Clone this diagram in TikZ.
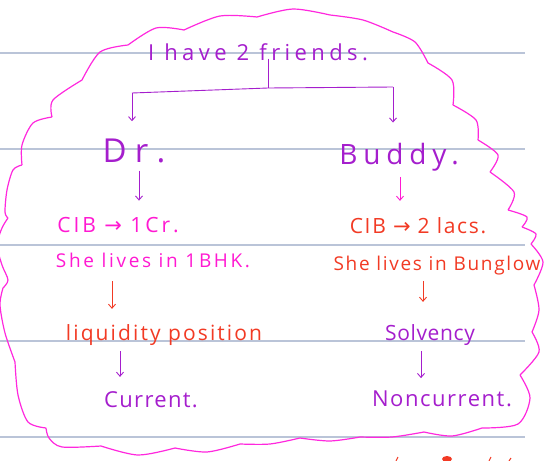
\documentclass[tikz,border=0pt]{standalone}
\usepackage{fontspec}
\setmainfont{Open Sans}
\newfontfamily\symfont{DejaVu Sans}
\usetikzlibrary{arrows.meta}
\definecolor{rule}{RGB}{186,196,216}
\definecolor{cloud}{RGB}{255,40,222}
\definecolor{ink}{RGB}{165,30,205}
\definecolor{pink}{RGB}{255,25,210}
\definecolor{redink}{RGB}{242,58,36}
\tikzset{
  txt/.style={inner sep=2pt, anchor=base},
  cloudline/.style={cloud, line width=1.2pt, line join=round},
  arr/.style={-{Straight Barb[length=4pt,width=7pt]}, line width=0.9pt}
}
\newcommand{\fs}[2]{\fontsize{#1}{#1}\selectfont\addfontfeature{LetterSpace=#2}}
\newcommand{\goesto}{{\symfont →}}
\begin{document}
\begin{tikzpicture}[x=1pt,y=-1pt]
    \useasboundingbox (0,0) rectangle (545,460);
    \clip (0,0) rectangle (545,460);
    \fill[white] (0,0) rectangle (545,460);
    \foreach \y in {53,149,245,341,437}
        \draw[rule,line width=1.6pt] (0,\y) -- (525,\y);
    \draw[cloudline]
      plot[smooth] coordinates {(128,45) (156,28) (184,30)}
      plot[smooth] coordinates {(184,30) (220,16) (257,17)}
      plot[smooth] coordinates {(257,17) (293,9) (330,15)}
      plot[smooth] coordinates {(330,15) (363,20) (393,32)}
      plot[smooth] coordinates {(393,32) (415,42) (428,63)}
      plot[smooth] coordinates {(428,63) (452,80) (453,105)}
      plot[smooth] coordinates {(453,105) (476,120) (478,140)}
      plot[smooth] coordinates {(478,140) (498,155) (490,172)}
      plot[smooth] coordinates {(490,172) (514,192) (508,210)}
      plot[smooth] coordinates {(508,210) (527,217) (522,227)}
      plot[smooth] coordinates {(522,227) (536,234) (531,244)}
      plot[smooth] coordinates {(531,244) (543,262) (534,285)}
      plot[smooth] coordinates {(534,285) (539,310) (532,332)}
      plot[smooth] coordinates {(532,332) (539,352) (520,375)}
      plot[smooth] coordinates {(520,375) (530,398) (518,424) (482,428)}
      plot[smooth] coordinates {(482,428) (452,436) (424,432)}
      plot[smooth] coordinates {(424,432) (392,437) (360,437)}
      plot[smooth] coordinates {(360,437) (330,441) (300,438)}
      plot[smooth] coordinates {(300,438) (270,444) (240,444)}
      plot[smooth] coordinates {(240,444) (207,452) (175,448)}
      plot[smooth] coordinates {(175,448) (138,455) (101,446)}
      plot[smooth] coordinates {(101,446) (62,447) (49,438) (46,428)}
      plot[smooth] coordinates {(46,428) (28,422) (18,395) (15,362)}
      plot[smooth] coordinates {(15,362) (5,333) (0,305) (3,288)}
      plot[smooth] coordinates {(3,288) (8,280) (2,265) (-3,245) (2,228) (8,218)}
      plot[smooth] coordinates {(8,218) (5,212) (7,190) (13,170) (22,165)}
      plot[smooth] coordinates {(22,165) (22,145) (33,123) (52,117)}
      plot[smooth] coordinates {(52,117) (53,100) (82,80)}
      plot[smooth] coordinates {(82,80) (100,52) (128,45)};

    \node[txt,ink,font=\fs{22}{20}] (f) at (258,60) {I have 2 friends.};
    \node[txt,ink,font=\fs{33}{25}] (dr) at (134,162) {Dr.};
    \node[txt,ink,font=\fs{28}{21}] (bd) at (399,164) {Buddy.};
    \node[txt,pink,font=\fs{21}{14}] (c1) at (118,232) {CIB \goesto{} 1Cr.};
    \node[txt,redink,font=\fs{21}{8}] (c2) at (418,233) {CIB \goesto{} 2 lacs.};
    \node[txt,pink,font=\fs{19}{14}] (h1) at (153,267) {She lives in 1BHK.};
    \node[txt,redink,font=\fs{19}{9}] (h2) at (437,270) {She lives in Bunglow};
    \node[txt,redink,font=\fs{21}{10}] (lq) at (164,340) {liquidity position};
    \node[txt,ink,font=\fs{21}{3}] (sv) at (430,340) {Solvency};
    \node[txt,ink,font=\fs{22}{6}] (cu) at (151,407) {Current.};
    \node[txt,ink,font=\fs{22}{7}] (nc) at (442,406) {Noncurrent.};

    \coordinate (t) at (268,88);
    \coordinate (l) at (132,93);
    \coordinate (r) at (393,87);
    \draw[ink,line width=0.9pt] (t |- f.south) ++(0,-4) -- (t);
    \draw[ink,line width=0.9pt] (l) -- (t) -- (r);
    \draw[arr,ink,shorten >=15pt] (l) -- (l |- dr.north);
    \draw[arr,ink,shorten >=18pt] (r) -- (r |- bd.north);
    \draw[arr,ink,shorten <=6pt,shorten >=14pt] (dr.south -| 139,0) -- (139,0 |- c1.north);
    \draw[arr,pink,shorten <=4pt,shorten >=14pt] (bd.south -| 400,0) -- (400,0 |- c2.north);
    \draw[arr,redink,shorten <=12pt,shorten >=13pt] (h1.south -| 112,0) -- (112,0 |- lq.north);
    \draw[arr,redink,shorten <=4pt,shorten >=20pt] (h2.south -| 423,0) -- (423,0 |- sv.north);
    \draw[arr,ink,shorten <=4pt,shorten >=12pt] (lq.south -| 120,0) -- (120,0 |- cu.north);
    \draw[arr,ink,shorten <=4pt,shorten >=10pt] (sv.south -| 421,0) -- (421,0 |- nc.north);

    \fill[redink] (447,459) ellipse (5pt and 3pt);
    \draw[redink,line width=1pt] (396,461) -- (398,457);
    \draw[redink,line width=1pt] (489,461) -- (491,457);
    \draw[redink,line width=1pt] (509,461) -- (511,458);
\end{tikzpicture}
\end{document}
